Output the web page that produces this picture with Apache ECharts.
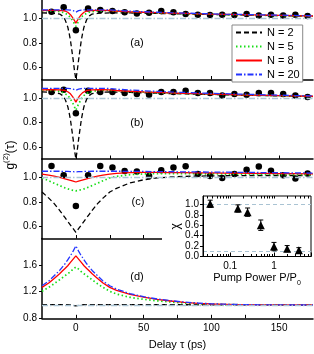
<!DOCTYPE html>
<html><head><meta charset="utf-8">
<script src="https://cdn.jsdelivr.net/npm/echarts@6/dist/echarts.min.js"></script>
<style>html,body{margin:0;padding:0;background:#fff}#c{width:314px;height:354px}</style>
</head><body><div id="c"></div>
<script>
// ---------- data ----------
const tau = [-25,-20,-16,-12,-10,-8,-6,-5,-4,-3,-2,-1,0,1,2,3,4,5,6,8,10,12,16,20,25,30,40,50,60,70,80,90,100,110,120,130,140,150,160,175];

const a_N2 = [1.045,1.043,1.04,1.035,1.02,0.99,0.93,0.88,0.82,0.74,0.66,0.57, 0.50, 0.57,0.66,0.74,0.82,0.88,0.93,0.99,1.02,1.035,1.04,1.043, 1.045,1.045,1.044,1.042,1.04,1.038,1.036,1.034,1.032,1.03,1.028,1.026,1.024,1.022,1.02,1.018];
const a_N5 = [1.062,1.062,1.06,1.055,1.05,1.042,1.03,1.02,1.008,0.995,0.975,0.955, 0.935, 0.955,0.975,0.995,1.008,1.02,1.03,1.042,1.05,1.055,1.06,1.062, 1.062,1.058,1.053,1.049,1.045,1.042,1.039,1.036,1.033,1.031,1.029,1.027,1.025,1.023,1.021,1.018];
const a_N8 = [1.064,1.065,1.065,1.064,1.063,1.06,1.05,1.042,1.03,1.015,1.0,0.982, 0.96, 0.982,1.0,1.015,1.03,1.042,1.05,1.06,1.063,1.064,1.065,1.065, 1.064,1.06,1.054,1.05,1.046,1.043,1.04,1.037,1.034,1.032,1.03,1.028,1.026,1.024,1.022,1.019];
const a_N20 = [1.07,1.07,1.07,1.07,1.07,1.07,1.07,1.069,1.068,1.066,1.063,1.058, 1.05, 1.058,1.063,1.066,1.068,1.069,1.07,1.07,1.07,1.07,1.07,1.07, 1.069,1.065,1.059,1.054,1.05,1.046,1.043,1.04,1.037,1.034,1.032,1.03,1.028,1.026,1.024,1.021];

const b_N2 = [1.048,1.046,1.043,1.035,1.02,0.99,0.93,0.88,0.82,0.74,0.66,0.57, 0.50, 0.57,0.66,0.74,0.82,0.88,0.93,0.99,1.02,1.035,1.043,1.046, 1.048,1.047,1.044,1.041,1.038,1.035,1.032,1.03,1.027,1.025,1.022,1.02,1.018,1.016,1.014,1.011];
const b_N5 = [1.062,1.062,1.06,1.052,1.045,1.035,1.02,1.005,0.99,0.97,0.95,0.925, 0.90, 0.925,0.95,0.97,0.99,1.005,1.02,1.035,1.045,1.052,1.06,1.062, 1.062,1.058,1.052,1.047,1.043,1.039,1.036,1.033,1.03,1.027,1.024,1.022,1.02,1.017,1.015,1.012];
const b_N8 = [1.065,1.066,1.066,1.065,1.063,1.06,1.05,1.043,1.033,1.02,1.003,0.985, 0.965, 0.985,1.003,1.02,1.033,1.043,1.05,1.06,1.063,1.065,1.066,1.066, 1.065,1.06,1.054,1.049,1.045,1.041,1.037,1.034,1.031,1.028,1.025,1.023,1.021,1.018,1.016,1.013];
const b_N20 = [1.078,1.078,1.078,1.078,1.078,1.078,1.078,1.077,1.076,1.074,1.071,1.067, 1.062, 1.067,1.071,1.074,1.076,1.077,1.078,1.078,1.078,1.078,1.078,1.078, 1.076,1.071,1.064,1.058,1.053,1.048,1.044,1.04,1.037,1.034,1.031,1.028,1.025,1.022,1.019,1.016];

const c_N2 = [0.88,0.83,0.785,0.73,0.70,0.67,0.64,0.625,0.61,0.595,0.58,0.565, 0.55, 0.565,0.58,0.595,0.61,0.625,0.64,0.67,0.70,0.73,0.785,0.83, 0.88,0.91,0.955,0.98,0.995,1.003,1.008,1.01,1.012,1.013,1.014,1.015,1.015,1.015,1.015,1.015];
const c_N5 = [0.995,0.972,0.952,0.933,0.923,0.914,0.906,0.902,0.899,0.896,0.893,0.891, 0.89, 0.891,0.893,0.896,0.899,0.902,0.906,0.914,0.923,0.933,0.952,0.972, 0.995,1.008,1.022,1.028,1.03,1.03,1.03,1.029,1.028,1.027,1.026,1.025,1.024,1.023,1.022,1.02];
const c_N8 = [1.026,1.018,1.01,1.0,0.994,0.988,0.982,0.979,0.976,0.973,0.97,0.966, 0.962, 0.966,0.97,0.973,0.976,0.979,0.982,0.988,0.994,1.0,1.01,1.018, 1.026,1.032,1.038,1.04,1.04,1.039,1.038,1.037,1.036,1.035,1.034,1.033,1.032,1.031,1.03,1.028];
const c_N20 = [1.05,1.05,1.05,1.05,1.049,1.049,1.048,1.048,1.047,1.047,1.046,1.046, 1.045, 1.046,1.046,1.047,1.047,1.048,1.048,1.049,1.049,1.05,1.05,1.05, 1.05,1.05,1.049,1.048,1.047,1.046,1.045,1.044,1.043,1.042,1.041,1.04,1.039,1.038,1.037,1.035];

const d_N2 = [1.005,1.005,1.005,1.005,1.005,1.005,1.005,1.004,1.001,0.997,0.993,0.99, 0.987, 0.99,0.993,0.997,1.001,1.004,1.005,1.005,1.005,1.005,1.005,1.005, 1.005,1.005,1.005,1.005,1.005,1.005,1.004,1.004,1.004,1.004,1.004,1.003,1.003,1.003,1.003,1.003];
const d_N5 = [1.205,1.265,1.32,1.38,1.41,1.44,1.47,1.485,1.50,1.52,1.54,1.555, 1.57, 1.555,1.54,1.52,1.50,1.485,1.47,1.44,1.41,1.38,1.32,1.265, 1.205,1.165,1.115,1.085,1.063,1.045,1.03,1.02,1.012,1.007,1.004,1.002,1.001,1.0,1.0,1.0];
const d_N8 = [1.265,1.33,1.40,1.47,1.51,1.55,1.59,1.615,1.64,1.665,1.69,1.715, 1.74, 1.715,1.69,1.665,1.64,1.615,1.59,1.55,1.51,1.47,1.40,1.33, 1.265,1.22,1.16,1.12,1.085,1.06,1.04,1.025,1.015,1.01,1.006,1.004,1.002,1.001,1.0,1.0];
const d_N20 = [1.29,1.36,1.44,1.52,1.57,1.62,1.68,1.71,1.74,1.775,1.81,1.85, 1.89, 1.85,1.81,1.775,1.74,1.71,1.68,1.62,1.57,1.52,1.44,1.36, 1.29,1.24,1.17,1.125,1.09,1.065,1.045,1.03,1.018,1.012,1.007,1.004,1.002,1.001,1.0,1.0];

const dotTau = [-18,-9,0,9,18,27,36,45,54,63,72,81,90,99,108,117,126,135,144,153,162,171];
const dotsA = [1.054,1.09,0.903,1.081,1.068,1.06,1.05,1.04,1.045,1.06,1.05,1.035,1.03,1.027,1.03,1.027,1.035,1.024,1.03,1.024,1.03,1.02];
const dotsB = [1.047,1.066,0.874,1.058,1.047,1.047,1.039,1.031,1.025,1.047,1.047,1.058,1.039,1.039,1.02,1.031,1.025,1.039,1.039,1.031,1.02,1.006];
const dotsC = [1.092,1.018,0.766,1.018,1.092,1.08,1.052,1.048,1.012,1.058,1.08,1.09,1.028,1.012,0.995,1.027,1.063,1.089,1.054,1.018,0.99,1.032];

const seriesNames = ['N = 2','N = 5','N = 8','N = 20'];
const xTickVals = [0,25,50,75,100,125,150];
const xLabelVals = [0,50,100,150];
const yTicksABC = [0.6,0.8,1.0];
const yTicksD = [0.8,1.2,1.6];
const panelLabels = ['(a)','(b)','(c)','(d)'];

// inset
const pump = [0.035,0.15,0.25,0.5,1.0,2.0,3.7];
const chi = [1.01,0.92,0.85,0.6,0.19,0.15,0.12];
const chiErr = [0.07,0.07,0.08,0.1,0.08,0.06,0.05];
const chiTicks = [0,0.2,0.4,0.6,0.8,1.0];
const pumpMinorTicks = [0.03,0.04,0.05,0.06,0.07,0.08,0.09,0.2,0.3,0.4,0.5,0.6,0.7,0.8,0.9,2,3,4,5,6];
const pumpAllTicks = [0.03,0.04,0.05,0.06,0.07,0.08,0.09,0.1,0.2,0.3,0.4,0.5,0.6,0.7,0.8,0.9,1,2,3,4,5,6];

// ---------- layout/style ----------
const FF = "'Liberation Sans', Arial, Helvetica, sans-serif";
const lineStyles = [
  {color:'#000000', type:[5,3], width:1.3},
  {color:'#18dd18', type:[1.5,2.5], width:1.7},
  {color:'#ff0000', type:'solid', width:1.3},
  {color:'#2233ff', type:[6,2,1.5,2], width:1.3}
];
const panels = [
  {top:0, h:79.5, min:0.5, max:1.15, yt:yTicksABC, curves:[a_N2,a_N5,a_N8,a_N20], dots:dotsA},
  {top:79.5, h:79.5, min:0.5, max:1.15, yt:yTicksABC, curves:[b_N2,b_N5,b_N8,b_N20], dots:dotsB},
  {top:159, h:79.5, min:0.5, max:1.15, yt:yTicksABC, curves:[c_N2,c_N5,c_N8,c_N20], dots:dotsC},
  {top:238.5, h:79.8, min:0.8, max:2.0, yt:yTicksD, curves:[d_N2,d_N5,d_N8,d_N20], dots:null}
];
const labelPos = [[137,43],[137,123],[138,202],[137,277]];

const grids = [], xAxes = [], yAxes = [], series = [];
panels.forEach((p, i) => {
  grids.push({left:42, right:1, top:p.top, height:p.h});
  const isLast = i === 3;
  xAxes.push({
    gridIndex:i, type:'value', min:-25, max:175,
    axisLine:{show:true, onZero:false, lineStyle:{color:'#000', width:1.5}},
    axisTick:{show:true, inside:true, length:3.5, customValues:xTickVals, lineStyle:{color:'#000', width:1}},
    axisLabel: isLast ? {show:true, customValues:xLabelVals, fontSize:10, color:'#000', margin:5, fontFamily:FF} : {show:false},
    splitLine:{show:false},
    name: isLast ? 'Delay τ (ps)' : '',
    nameLocation:'middle', nameGap:21,
    nameTextStyle:{fontSize:11, color:'#000', fontFamily:FF}
  });
  yAxes.push({
    gridIndex:i, type:'value', min:p.min, max:p.max,
    axisLine:{show:true, onZero:false, lineStyle:{color:'#000', width:1.5}},
    axisTick:{show:true, inside:false, length:3, customValues:p.yt, lineStyle:{color:'#000', width:1}},
    axisLabel:{show:true, customValues:p.yt, formatter:v => v.toFixed(1), fontSize:10, color:'#000', margin:5, fontFamily:FF},
    splitLine:{show:false}
  });
  if (p.dots) {
    series.push({
      type:'scatter', xAxisIndex:i, yAxisIndex:i, symbol:'circle', symbolSize:6.5,
      itemStyle:{color:'#000', opacity:1}, z:2, silent:true,
      data: dotTau.map((t,k) => [t, p.dots[k]])
    });
  }
  p.curves.forEach((arr, j) => {
    const s = {
      type:'line', name:seriesNames[j], xAxisIndex:i, yAxisIndex:i,
      symbol:'none', showSymbol:false, smooth:false, clip:true, z:3,
      lineStyle:{color:lineStyles[j].color, type:lineStyles[j].type, width:lineStyles[j].width},
      itemStyle:{color:lineStyles[j].color},
      data: tau.map((t,k) => [t, arr[k]])
    };
    if (j === 0) {
      s.markLine = {silent:true, symbol:'none', label:{show:false}, animation:false,
        lineStyle:{color:'#abc5d5', type:[6,2,1.5,2], width:1.4}, data:[{yAxis:1}]};
    }
    series.push(s);
  });
});

// inset grid (index 4)
grids.push({left:203, width:109, top:196, height:60.5, show:true, backgroundColor:'#fff', borderColor:'#000', borderWidth:1, z:5});
xAxes.push({
  gridIndex:4, type:'log', logBase:10, min:0.024, max:7, z:6,
  axisLine:{show:true, onZero:false, lineStyle:{color:'#000', width:1}},
  axisTick:{show:true, inside:true, length:4, lineStyle:{color:'#000'}},
  axisLabel:{show:true, fontSize:10, color:'#000', margin:5, fontFamily:FF,
    formatter: v => (Math.abs(v-0.1) < 1e-6 ? '0.1' : (Math.abs(v-1) < 1e-6 ? '1' : ''))},
  splitLine:{show:false}, minorTick:{show:false},
  name:'{m|Pump Power P/P}{s|0}', nameLocation:'middle', nameGap:15,
  nameTextStyle:{fontFamily:FF, color:'#000', rich:{
    m:{fontSize:11, lineHeight:14, fontFamily:FF, color:'#000', verticalAlign:'top'},
    s:{fontSize:7, lineHeight:8, fontFamily:FF, color:'#000', verticalAlign:'bottom'}
  }}
});
xAxes.push({
  gridIndex:4, type:'value', position:'bottom', min:Math.log10(0.024), max:Math.log10(7), z:6,
  axisLine:{show:false},
  axisTick:{show:true, inside:true, length:2.5, customValues:pumpMinorTicks.map(v => Math.log10(v)), lineStyle:{color:'#000'}},
  axisLabel:{show:false}, splitLine:{show:false}
});
xAxes.push({
  gridIndex:4, type:'value', position:'top', min:Math.log10(0.024), max:Math.log10(7), z:6,
  axisLine:{show:false},
  axisTick:{show:true, inside:true, length:2.5, customValues:pumpAllTicks.map(v => Math.log10(v)), lineStyle:{color:'#000'}},
  axisLabel:{show:false}, splitLine:{show:false}
});
yAxes.push({
  gridIndex:4, type:'value', min:0, max:1.16, z:6,
  axisLine:{show:true, onZero:false, lineStyle:{color:'#000', width:1}},
  axisTick:{show:true, inside:false, length:3, customValues:chiTicks, lineStyle:{color:'#000'}},
  axisLabel:{show:true, customValues:chiTicks, formatter:v => v.toFixed(1), fontSize:10, color:'#000', margin:4, fontFamily:FF},
  splitLine:{show:false},
  name:'χ', nameLocation:'middle', nameGap:19,
  nameTextStyle:{fontSize:12, color:'#000', fontFamily:FF}
});
series.push({
  type:'custom', xAxisIndex:4, yAxisIndex:4, z:7, silent:true,
  data: pump.map((p,k) => [p, chi[k]-chiErr[k], chi[k]+chiErr[k]]),
  renderItem: function(params, api) {
    const a = api.coord([api.value(0), api.value(1)]);
    const b = api.coord([api.value(0), api.value(2)]);
    const w = 2.5, st = {stroke:'#000', lineWidth:1};
    return {type:'group', children:[
      {type:'line', shape:{x1:a[0], y1:a[1], x2:b[0], y2:b[1]}, style:st},
      {type:'line', shape:{x1:a[0]-w, y1:a[1], x2:a[0]+w, y2:a[1]}, style:st},
      {type:'line', shape:{x1:b[0]-w, y1:b[1], x2:b[0]+w, y2:b[1]}, style:st}
    ]};
  }
});
series.push({
  type:'scatter', xAxisIndex:4, yAxisIndex:4, z:8, silent:true,
  symbol:'triangle', symbolSize:8, itemStyle:{color:'#000', opacity:1},
  data: pump.map((p,k) => [p, chi[k]]),
  markLine:{silent:true, symbol:'none', label:{show:false}, animation:false,
    lineStyle:{color:'#a9c3d3', type:[4,3], width:1}, data:[{yAxis:1.0},{yAxis:0.1}]}
});

const graphics = [
  {type:'rect', z:1, shape:{x:162, y:188, width:152, height:98}, style:{fill:'#fff'}},
  {type:'text', x:9, y:155, rotation:Math.PI/2, z:10,
    style:{text:'{m|g}{s|(2)}{m|(τ)}', align:'center', verticalAlign:'middle',
      rich:{m:{fontSize:12, lineHeight:15, fontFamily:FF, fill:'#000', verticalAlign:'bottom'},
            s:{fontSize:8, lineHeight:9, fontFamily:FF, fill:'#000', verticalAlign:'top'}}}}
];
panelLabels.forEach((t,i) => {
  graphics.push({type:'text', x:labelPos[i][0], y:labelPos[i][1], z:10,
    style:{text:t, align:'center', verticalAlign:'middle', fontSize:11, fontFamily:FF, fill:'#000'}});
});

const chart = echarts.init(document.getElementById('c'), null, {renderer:'canvas'});
chart.setOption({
  animation:false,
  backgroundColor:'#fff',
  textStyle:{fontFamily:FF},
  legend:{
    data:seriesNames, orient:'vertical', left:232, top:25,
    itemWidth:26, itemHeight:12, itemGap:3, padding:[2,3,2,3],
    backgroundColor:'#fff', borderColor:'#888', borderWidth:1,
    itemStyle:{opacity:0, borderWidth:0},
    textStyle:{fontSize:11, color:'#000', fontFamily:FF},
    selectedMode:false, z:20
  },
  grid:grids, xAxis:xAxes, yAxis:yAxes, series:series, graphic:graphics
});
</script></body></html>
